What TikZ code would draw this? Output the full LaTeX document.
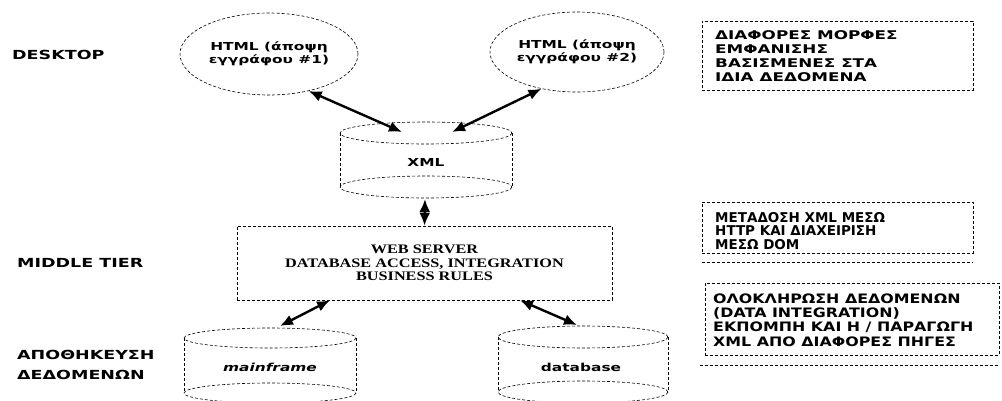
\documentclass[tikz,border=0pt]{standalone}
\usepackage{fontspec}
\usetikzlibrary{shapes.geometric,arrows.meta}
% wide sans for labels and notes, two narrower cuts, and a wide serif
\newfontfamily\labfont{DejaVu Sans}[FakeStretch=1.4]
\newfontfamily\midfont{DejaVu Sans}[FakeStretch=1.22]
\newfontfamily\narfont{DejaVu Sans}
\newfontfamily\serfont{Liberation Serif}[FakeStretch=1.25]

% cylinder outline: centre x, top-ellipse y, bottom-ellipse y, x radius, y radius
\newcommand\drawcyl[5]{%
  \draw[dline] (#1,#2) ellipse [x radius=#4, y radius=#5];
  \draw[dline] (#1,#3) ellipse [x radius=#4, y radius=#5];
  \draw[dline] (#1-#4,#2) -- (#1-#4,#3);
  \draw[dline] (#1+#4,#2) -- (#1+#4,#3);
}

\begin{document}
\begin{tikzpicture}[x=1pt,y=-1pt,
  dline/.style={dash pattern=on 3pt off 2pt, line width=0.6pt},
  tier/.style={font=\labfont\bfseries\fontsize{12.5}{20}\selectfont, anchor=west, align=left, inner sep=0},
  view/.style={ellipse, draw, dline, minimum width=178pt, minimum height=82pt, inner sep=0,
    align=center, font=\labfont\bfseries\fontsize{11}{13}\selectfont},
  store/.style={inner sep=0, font=\labfont\bfseries\fontsize{11}{13}\selectfont},
  server/.style={draw, dline, minimum width=375pt, minimum height=74pt, inner sep=0,
    align=center, font=\serfont\bfseries\fontsize{13}{13.5}\selectfont},
  notebox/.style={draw, dline, inner sep=0},
  notetext/.style={anchor=west, align=left, inner sep=0},
  link/.style={{Latex[length=13pt,width=11pt]}-{Latex[length=13pt,width=11pt]}, line width=2.4pt}
]
\useasboundingbox (0,0) rectangle (1002,400);

% tier labels
\node[tier] (desk) at (12,55) {DESKTOP};
\node[tier] (mid) at (17,263) {MIDDLE TIER};
\node[tier] (stor) at (17,365) {ΑΠΟΘΗΚΕΥΣΗ\\ΔΕΔΟΜΕΝΩΝ};

% document views
\node[view] (h1) at (269,54) {HTML (άποψη\\εγγράφου \#1)};
\node[view, minimum width=174pt, minimum height=80pt] (h2) at (577,52) {HTML (άποψη\\εγγράφου \#2)};

% XML store
\drawcyl{426}{133}{187}{86}{11}
\node[store] (xml) at (426,162) {XML};
\coordinate (xml-l) at (402,132);
\coordinate (xml-r) at (452,132);
\coordinate (xml-b) at (425,199);

% middle tier
\node[server] (web) at (424.5,263) {WEB SERVER\\DATABASE ACCESS, INTEGRATION\\BUSINESS RULES};

% data sources
\drawcyl{270}{338}{393}{86}{10}
\node[store, font=\labfont\bfseries\itshape\fontsize{11}{13}\selectfont] (mf) at (270,367) {mainframe};
\coordinate (mf-t) at (280,326);
\drawcyl{583}{337}{392}{85}{11}
\node[store] (db) at (581,367) {database};
\coordinate (db-t) at (577,325);

% connectors
\draw[link] (h1.-43) -- (xml-l);
\draw[link] (h2.-134) -- (xml-r);
\draw[link] (xml-b) -- (web.north);
\draw[link] ([xshift=-94.5pt]web.south) -- (mf-t);
\draw[link] ([xshift=95.5pt]web.south) -- (db-t);

% notes on the right
\node[notebox, minimum width=271pt, minimum height=69pt] (n1) at (837.5,55.5) {};
\node[notetext, font=\labfont\bfseries\fontsize{12}{14}\selectfont] (n1t) at (715,56)
  {ΔΙΑΦΟΡΕΣ ΜΟΡΦΕΣ\\ΕΜΦΑΝΙΣΗΣ\\ΒΑΣΙΣΜΕΝΕΣ ΣΤΑ\\ΙΔΙΑ ΔΕΔΟΜΕΝΑ};

\node[notebox, minimum width=271pt, minimum height=51pt] (n2) at (837.5,227.5) {};
\node[notetext, font=\narfont\bfseries\fontsize{13.5}{13.5}\selectfont] (n2t) at (715,231)
  {ΜΕΤΑΔΟΣΗ XML ΜΕΣΩ\\HTTP ΚΑΙ ΔΙΑΧΕΙΡΙΣΗ\\ΜΕΣΩ DOM};
\draw[dline] (n2.south west) ++(0,9) -- ++(271,0);

\node[notebox, minimum width=294pt, minimum height=72pt] (n3) at (852,319) {};
\node[notetext, font=\midfont\bfseries\fontsize{13}{14.3}\selectfont] (n3t) at (713,320)
  {ΟΛΟΚΛΗΡΩΣΗ ΔΕΔΟΜΕΝΩΝ\\(DATA INTEGRATION)\\ΕΚΠΟΜΠΗ ΚΑΙ Η / ΠΑΡΑΓΩΓΗ\\XML ΑΠΟ ΔΙΑΦΟΡΕΣ ΠΗΓΕΣ};
\draw[dline] (n3.south west) ++(-5,10) -- ++(299,0);
\end{tikzpicture}
\end{document}
